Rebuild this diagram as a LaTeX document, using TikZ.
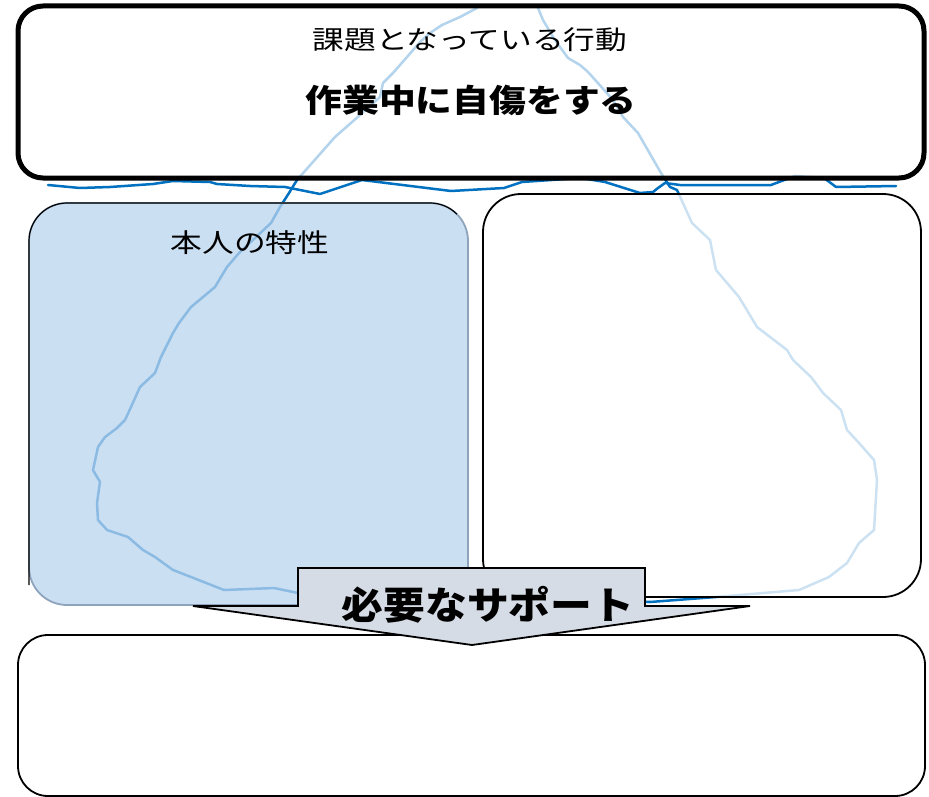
\documentclass[tikz,border=0pt]{standalone}
\usepackage{graphicx}
\usepackage{fontspec}
\newfontfamily\jp{Noto Sans CJK JP}
\definecolor{dkblue}{RGB}{0,112,192}
\definecolor{boxblue}{RGB}{186,212,238}
\definecolor{arrowfill}{RGB}{214,220,229}
\definecolor{edgegray}{RGB}{142,164,188}
\tikzset{
  normtxt/.style={font=\jp\fontsize{26}{26}\selectfont, inner sep=0pt},
  boldtxt/.style={font=\jp\bfseries\fontsize{32}{32}\selectfont, inner sep=0pt},
  bigtxt/.style={font=\jp\bfseries\fontsize{38}{38}\selectfont, inner sep=0pt},
  iceline/.style={draw=dkblue, line width=2.5pt, line join=round, line cap=round},
}
\begin{document}
\begin{tikzpicture}[x=1pt,y=-1pt]
\useasboundingbox (0,0) rectangle (929,797);
% iceberg outline (behind boxes)
\draw[iceline] (477,8) -- (460,17) -- (442,25) -- (430,33) -- (420,42) -- (407,57) -- (393,73) -- (383,83) -- (380,97) -- (360,115) -- (335,137) -- (297,180) -- (289,193) -- (280,207) -- (271,223) -- (239,253) -- (227,267) -- (215,287) -- (191,307) -- (179,323) -- (173,333) -- (161,357) -- (155,373) -- (140,387) -- (131,407) -- (125,420) -- (117,428) -- (105,437) -- (98,447) -- (93,470) -- (100,482) -- (97,503) -- (98,520) -- (107,530) -- (128,537) -- (143,550) -- (155,557) -- (173,570) -- (191,577) -- (224,590) -- (274,588) -- (298,593) -- (650,602) -- (716,597) -- (799,590) -- (829,577) -- (847,563) -- (859,543) -- (874,530) -- (877,480) -- (874,460) -- (859,443) -- (847,430) -- (841,410) -- (823,393) -- (811,377) -- (793,360) -- (787,350) -- (757,327) -- (739,297) -- (716,270) -- (710,240) -- (692,223) -- (677,190) -- (670,187) -- (661,173) -- (638,133) -- (623,117) -- (613,100) -- (597,82) -- (588,72) -- (580,65) -- (568,58) -- (560,47) -- (553,37) -- (543,20) -- (538,8);
% waterline
\draw[iceline] (48,185) -- (80,188) -- (110,187) -- (153,184) -- (173,181) -- (210,182) -- (217,184) -- (250,186) -- (285,187) -- (320,194) -- (362,180) -- (451,191) -- (504,188) -- (522,182) -- (581,178) -- (605,182) -- (640,193) -- (653,192) -- (658,188) -- (665,183) -- (680,185) -- (771,185) -- (795,176) -- (824,178) -- (836,187) -- (896,186);
% top box
\fill[white, fill opacity=0.7, rounded corners=25] (18,6) rectangle (924,178);
\draw[line width=5pt, rounded corners=25] (18,6) rectangle (924,178);
% left box
\fill[boxblue, fill opacity=0.75, rounded corners=38] (29,203) rectangle (468,605);
\draw[edgegray, line width=1.8pt, rounded corners=38] (29,203) rectangle (468,605);
\draw[black, line width=1.2pt] (29,585) -- (29,241) arc[start angle=180, end angle=270, radius=38] -- (430,203) arc[start angle=270, end angle=315, radius=38];
% right box
\fill[white, fill opacity=0.8, rounded corners=38] (483,194) rectangle (921,597);
\draw[line width=1.8pt, rounded corners=38] (483,194) rectangle (921,597);
% bottom box
\draw[line width=1.8pt, fill=white, rounded corners=30] (18,635) rectangle (925,796);
% arrow
\draw[line width=1.8pt, fill=arrowfill, line join=miter] (298,568) -- (645,568) -- (645,606) -- (750,606) -- (472,645) -- (193,606) -- (298,606) -- cycle;
% texts
\node[normtxt] (t1) at (470,40) {\scalebox{1.22}[1]{課題となっている行動}};
\node[boldtxt] (t2) at (471,100) {\scalebox{1.15}[1]{作業中に自傷をする}};
\node[normtxt] (t3) at (250,243) {\scalebox{1.22}[1]{本人の特性}};
\node[bigtxt] (t4) at (488,605) {\scalebox{1.1}[1]{必要なサポート}};
\end{tikzpicture}
\end{document}
